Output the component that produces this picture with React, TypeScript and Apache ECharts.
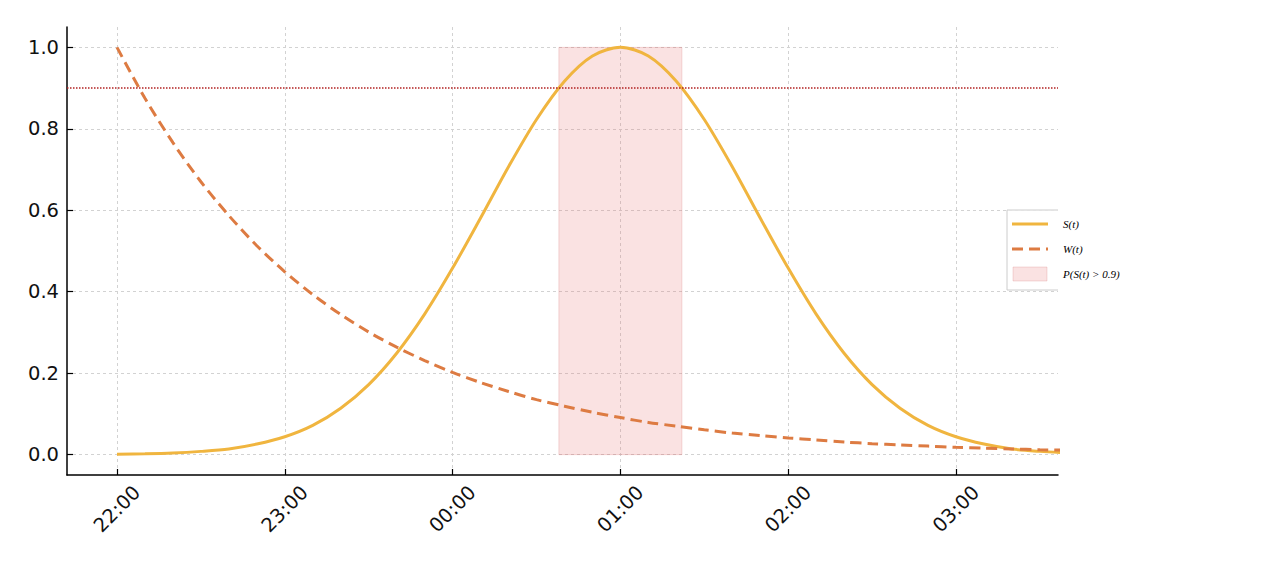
import React, { useEffect, useRef } from "react";
import * as echarts from "echarts";

// ---- data ----
const timeLabels = [
  "22:00", "22:10", "22:20", "22:30", "22:40", "22:50",
  "23:00", "23:10", "23:20", "23:30", "23:40", "23:50",
  "00:00", "00:10", "00:20", "00:30", "00:40", "00:50",
  "01:00", "01:10", "01:20", "01:30", "01:40", "01:50",
  "02:00", "02:10", "02:20", "02:30", "02:40", "02:50",
  "03:00", "03:10", "03:20", "03:30", "03:40",
];
const sValues = [
  0.001, 0.002, 0.004, 0.008, 0.014, 0.026,
  0.044, 0.072, 0.114, 0.172, 0.249, 0.345,
  0.458, 0.581, 0.707, 0.823, 0.917, 0.979,
  1.0, 0.979, 0.917, 0.823, 0.707, 0.581,
  0.458, 0.345, 0.249, 0.172, 0.114, 0.072,
  0.044, 0.026, 0.014, 0.008, 0.004,
];
const wValues = [
  1.0, 0.875, 0.766, 0.670, 0.587, 0.513,
  0.449, 0.393, 0.344, 0.301, 0.264, 0.231,
  0.202, 0.177, 0.155, 0.135, 0.119, 0.104,
  0.091, 0.079, 0.070, 0.061, 0.053, 0.047,
  0.041, 0.036, 0.031, 0.027, 0.024, 0.021,
  0.018, 0.016, 0.014, 0.012, 0.011,
];
const thresholdValue = 0.9;
const highWindow = ["00:38", "01:22"];
const xTickLabels = ["22:00", "23:00", "00:00", "01:00", "02:00", "03:00"];
const yTickValues = [0, 0.2, 0.4, 0.6, 0.8, 1.0];
const legendLabels = ["S(t)", "W(t)", "P(S(t) > 0.9)"];

// hours since 22:00
const toHours = (s: string) => {
  const [h, m] = s.split(":").map(Number);
  return ((h - 22 + 24) % 24) + m / 60;
};

const S_COLOR = "#F0B53F";
const W_COLOR = "#DD7B42";
const AREA_COLOR = "rgba(232,112,112,0.2)";

export default function App() {
  const ref = useRef<HTMLDivElement>(null);
  useEffect(() => {
    document.body.style.margin = "0";
    if (!ref.current) return;
    const chart = echarts.init(ref.current, undefined, { renderer: "svg" });
    const xTickValues = xTickLabels.map(toHours);
    const gridLine = { lineStyle: { color: "#d2d2d2", type: [3, 3] as any, width: 1 } };
    const font = "DejaVu Sans";
    const option: any = {
      animation: false,
      backgroundColor: "#ffffff",
      grid: { left: 67, top: 27, width: 991, height: 448, containLabel: false },
      xAxis: {
        type: "value",
        min: -0.298,
        max: 5.608,
        axisLine: { show: true, onZero: false, lineStyle: { color: "#000", width: 1.5 } },
        axisTick: { show: true, inside: true, length: 6, customValues: xTickValues, lineStyle: { color: "#000", width: 1.2 } },
        axisLabel: {
          customValues: xTickValues,
          rotate: 45,
          align: "center",
          verticalAlign: "middle",
          margin: 34,
          fontSize: 19.5,
          fontFamily: font,
          color: "#111",
          formatter: (v: number) => {
            const i = xTickValues.findIndex((t) => Math.abs(t - v) < 1e-6);
            return i >= 0 ? xTickLabels[i] : "";
          },
        },
        splitLine: { show: true, ...gridLine },
      },
      yAxis: {
        type: "value",
        min: -0.05,
        max: 1.05,
        axisLine: { show: true, onZero: false, lineStyle: { color: "#000", width: 1.5 } },
        axisTick: { show: true, inside: true, length: 6, customValues: yTickValues, lineStyle: { color: "#000", width: 1.2 } },
        axisLabel: {
          customValues: yTickValues,
          margin: 8,
          fontSize: 19.5,
          fontFamily: font,
          color: "#111",
          formatter: (v: number) => v.toFixed(1),
        },
        splitLine: { show: true, ...gridLine },
      },
      series: [
        {
          name: legendLabels[0],
          type: "line",
          data: timeLabels.map((t, i) => [toHours(t), sValues[i]]),
          smooth: 0.3,
          showSymbol: false,
          lineStyle: { color: S_COLOR, width: 3 },
          itemStyle: { color: S_COLOR },
          z: 3,
          markArea: {
            silent: true,
            itemStyle: { color: AREA_COLOR, borderColor: "rgba(220,120,120,0.25)", borderWidth: 1 },
            data: [[
              { xAxis: toHours(highWindow[0]), yAxis: 0 },
              { xAxis: toHours(highWindow[1]), yAxis: 1 },
            ]],
          },
          markLine: {
            silent: true,
            symbol: "none",
            label: { show: false },
            lineStyle: { color: "#B22222", type: "dotted", width: 1.5 },
            data: [{ yAxis: thresholdValue }],
          },
        },
        {
          name: legendLabels[1],
          type: "line",
          data: timeLabels.map((t, i) => [toHours(t), wValues[i]]),
          smooth: 0.3,
          showSymbol: false,
          lineStyle: { color: W_COLOR, width: 3, type: [11, 6] },
          itemStyle: { color: W_COLOR },
          z: 4,
        },
      ],
      graphic: [
        { type: "rect", shape: { x: 1007, y: 210, width: 51, height: 80 }, style: { fill: "rgba(255,255,255,0.85)" }, z: 10 },
        {
          type: "polyline",
          shape: { points: [[1058, 210], [1007, 210], [1007, 290], [1058, 290]] },
          style: { stroke: "#cccccc", fill: "none", lineWidth: 1 },
          z: 11,
        },
        { type: "line", shape: { x1: 1012, y1: 224, x2: 1048, y2: 224 }, style: { stroke: S_COLOR, lineWidth: 3 }, z: 11 },
        { type: "line", shape: { x1: 1012, y1: 249, x2: 1048, y2: 249 }, style: { stroke: W_COLOR, lineWidth: 3, lineDash: [11, 6] }, z: 11 },
        { type: "rect", shape: { x: 1013, y: 267, width: 34, height: 14 }, style: { fill: AREA_COLOR, stroke: "rgba(220,120,120,0.25)" }, z: 11 },
        ...legendLabels.map((txt, i) => ({
          type: "text",
          x: 1063,
          y: [224, 249, 274][i],
          style: {
            text: txt,
            fill: "#000",
            font: "italic 11px 'Liberation Serif'",
            textVerticalAlign: "middle",
            verticalAlign: "middle",
          },
          z: 12,
        })),
      ],
    };
    chart.setOption(option);
    return () => chart.dispose();
  }, []);
  return <div ref={ref} style={{ width: 1280, height: 567 }} />;
}
